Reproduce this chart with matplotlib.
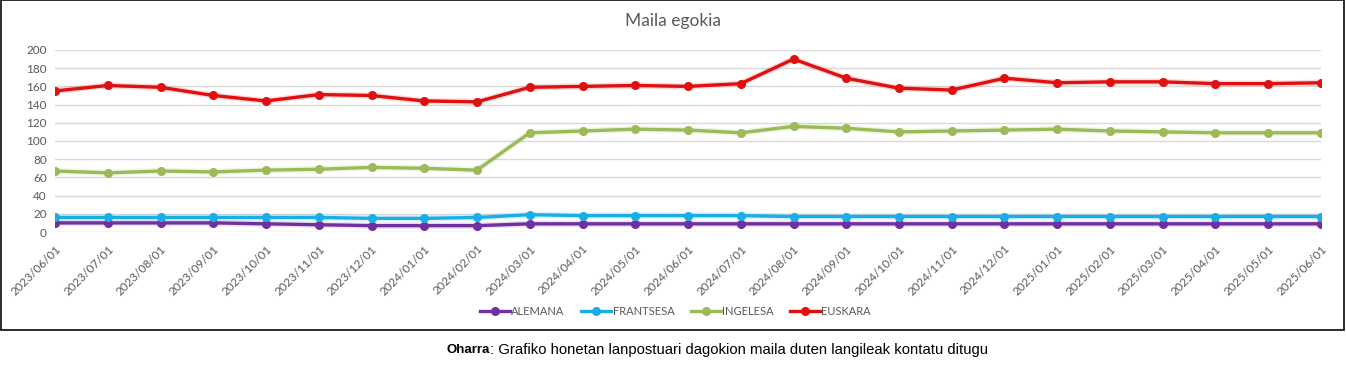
import matplotlib
matplotlib.use("Agg")
import matplotlib.pyplot as plt
from matplotlib.patches import Rectangle

dates = ["2023/06/01", "2023/07/01", "2023/08/01", "2023/09/01", "2023/10/01",
         "2023/11/01", "2023/12/01", "2024/01/01", "2024/02/01", "2024/03/01",
         "2024/04/01", "2024/05/01", "2024/06/01", "2024/07/01", "2024/08/01",
         "2024/09/01", "2024/10/01", "2024/11/01", "2024/12/01", "2025/01/01",
         "2025/02/01", "2025/03/01", "2025/04/01", "2025/05/01", "2025/06/01"]

alemana = [10, 10, 10, 10, 9, 8, 7, 7, 7, 9, 9, 9, 9, 9, 9, 9, 9, 9, 9, 9, 9, 9, 9, 9, 9]
frantsesa = [16, 16, 16, 16, 16, 16, 15, 15, 16, 19, 18, 18, 18, 18, 17, 17, 17, 17, 17, 17, 17, 17, 17, 17, 17]
ingelesa = [67, 65, 67, 66, 68, 69, 71, 70, 68, 109, 111, 113, 112, 109, 116, 114, 110, 111, 112, 113, 111, 110, 109, 109, 109]
euskara = [155, 161, 159, 150, 144, 151, 150, 144, 143, 159, 160, 161, 160, 163, 190, 169, 158, 156, 169, 164, 165, 165, 163, 163, 164]

series = [("ALEMANA", alemana, "#7030A0"),
          ("FRANTSESA", frantsesa, "#1AAEE8"),
          ("INGELESA", ingelesa, "#9BBB59"),
          ("EUSKARA", euskara, "#E01010")]

grey = "#595959"
plt.rcParams["font.family"] = ["Lato", "DejaVu Sans"]

fig = plt.figure(figsize=(13.46, 3.73), dpi=100)
ax = fig.add_axes([0.0409, 0.378, 0.9405, 0.488])

x = list(range(len(dates)))
for name, vals, col in series:
    # soft glow under each line, like the Excel shadow
    ax.plot(x, vals, color=col, lw=4.5, alpha=0.15, solid_capstyle="round")
    ax.plot(x, vals, color=col, lw=2.4, marker="o", ms=5.5, label=name)

ax.set_xlim(0, len(dates) - 1)
ax.set_ylim(0, 200)
ax.set_yticks(range(0, 201, 20))
ax.grid(axis="y", color="#D9D9D9", lw=1)
ax.set_axisbelow(True)
for s in ax.spines.values():
    s.set_visible(False)
ax.tick_params(length=0, colors=grey, labelsize=8.5, pad=6)
ax.set_xticks(x)
ax.set_xticklabels(dates, rotation=45, ha="right", rotation_mode="anchor")
ax.tick_params(axis="x", pad=8)

fig.text(0.5, 0.943, "Maila egokia", color=grey, fontsize=12.5, ha="center", va="center")

leg = ax.legend(loc="center", bbox_to_anchor=(0.502, 0.166), bbox_transform=fig.transFigure,
                frameon=False, ncol=4, fontsize=8, handlelength=2.7, columnspacing=1.5,
                handletextpad=0.1)
for t in leg.get_texts():
    t.set_color(grey)

fig.patches.append(Rectangle((0.0005, 0.1153), 0.998, 0.8835, transform=fig.transFigure,
                             fill=False, edgecolor="#1a1a1a", lw=1.3))

t1 = fig.text(0.332, 0.062, "Oharra", fontsize=9.5, fontweight="bold",
              family="Liberation Sans", va="center")
ax.annotate(": Grafiko honetan lanpostuari dagokion maila duten langileak kontatu ditugu",
            xy=(1, 0.5), xycoords=t1, va="center", ha="left", fontsize=10.7,
            family="Liberation Sans", annotation_clip=False)

fig.savefig("out.png", dpi=100)
